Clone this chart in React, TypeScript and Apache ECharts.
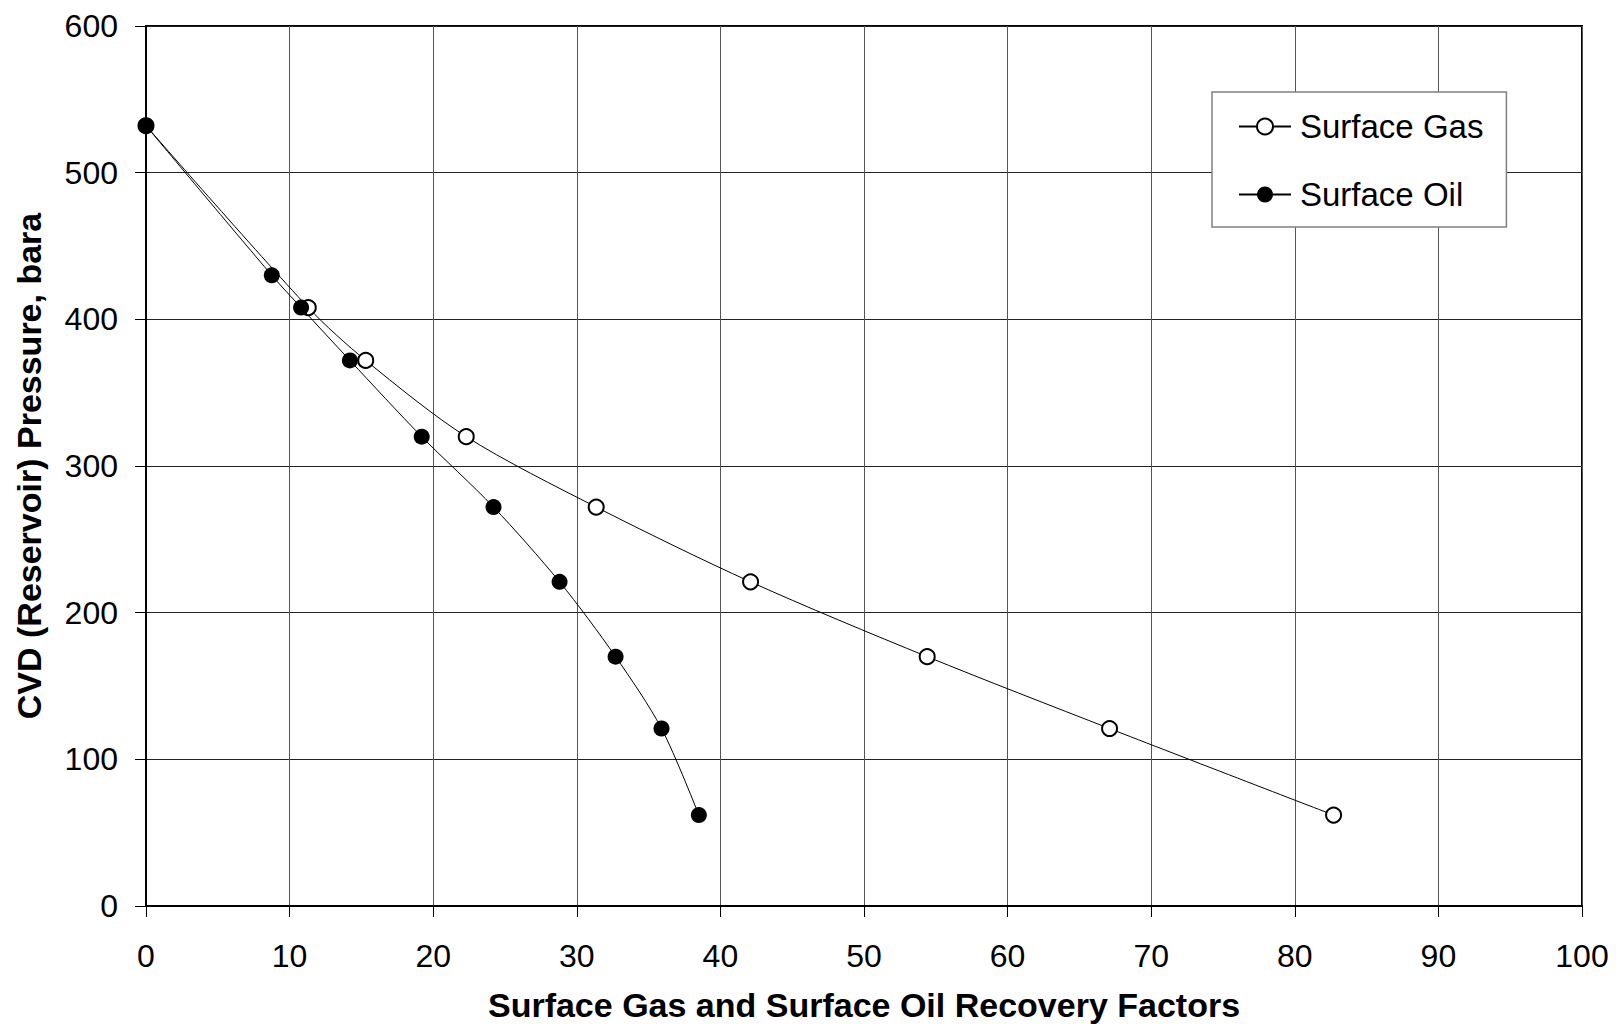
import React, { useEffect, useRef } from "react";
import * as echarts from "echarts";

const pressure = [532, 430, 408, 372, 320, 272, 221, 170, 121, 62];
const gasPressure = [532, 408, 372, 320, 272, 221, 170, 121, 62];
const gasRecovery = [0, 11.3, 15.3, 22.3, 31.35, 42.1, 54.4, 67.1, 82.7];
const oilRecovery = [0, 8.76, 10.8, 14.2, 19.2, 24.2, 28.8, 32.7, 35.9, 38.5];

const FONT = "'Liberation Sans', Arial, sans-serif";

export default function App() {
  const ref = useRef<HTMLDivElement>(null);
  useEffect(() => {
    if (!ref.current) return;
    const chart = echarts.init(ref.current, undefined, { renderer: "svg" });
    const gasData = gasRecovery.map((x, i) => [x, gasPressure[i]]);
    const oilData = oilRecovery.map((x, i) => [x, pressure[i]]);
    chart.setOption({
      animation: false,
      backgroundColor: "#fff",
      textStyle: { fontFamily: FONT },
      grid: {
        left: 146,
        top: 26,
        width: 1436,
        height: 880,
        outerBoundsMode: "none",
        containLabel: false,
        show: true,
        borderColor: "#000",
        borderWidth: 2,
        backgroundColor: "transparent",
      },
      legend: {
        left: 1212,
        top: 92,
        orient: "vertical",
        backgroundColor: "#fff",
        borderColor: "#808080",
        borderWidth: 1.5,
        borderRadius: 0,
        padding: [18, 23, 16, 26],
        itemWidth: 52,
        itemHeight: 20,
        itemGap: 35,
        textStyle: { fontSize: 33, color: "#000", fontFamily: FONT, padding: [0, 0, 0, 4] },
        data: ["Surface Gas", "Surface Oil"],
      },
      xAxis: {
        type: "value",
        min: 0,
        max: 100,
        interval: 10,
        name: "Surface Gas and Surface Oil Recovery Factors",
        nameLocation: "middle",
        nameGap: 82,
        nameTextStyle: { fontSize: 34, fontWeight: "bold", color: "#000", fontFamily: FONT },
        axisLine: { show: true, lineStyle: { color: "#000", width: 2 } },
        axisTick: { show: true, inside: false, length: 11, lineStyle: { color: "#000", width: 1 } },
        axisLabel: { fontSize: 32, color: "#000", margin: 34, fontFamily: FONT },
        splitLine: { show: true, lineStyle: { color: "#555", width: 1 } },
      },
      yAxis: {
        type: "value",
        min: 0,
        max: 600,
        interval: 100,
        name: "CVD (Reservoir) Pressure, bara",
        nameLocation: "middle",
        nameGap: 100,
        nameTextStyle: { fontSize: 34, fontWeight: "bold", color: "#000", fontFamily: FONT },
        axisLine: { show: true, lineStyle: { color: "#000", width: 2 } },
        axisTick: { show: true, inside: false, length: 11, lineStyle: { color: "#000", width: 1 } },
        axisLabel: { fontSize: 32, color: "#000", margin: 28, fontFamily: FONT },
        splitLine: { show: true, lineStyle: { color: "#222", width: 1 } },
      },
      series: [
        {
          name: "Surface Gas",
          type: "line",
          data: gasData,
          smooth: 0.3,
          symbol: "circle",
          symbolSize: 15,
          lineStyle: { color: "#000", width: 1 },
          itemStyle: { color: "#fff", borderColor: "#000", borderWidth: 2 },
          z: 3,
        },
        {
          name: "Surface Oil",
          type: "line",
          data: oilData,
          smooth: 0.3,
          symbol: "circle",
          symbolSize: 16,
          lineStyle: { color: "#000", width: 1 },
          itemStyle: { color: "#000", borderColor: "#000", borderWidth: 0 },
          z: 4,
        },
      ],
    });
    return () => chart.dispose();
  }, []);
  return (
    <div
      ref={ref}
      style={{ position: "fixed", left: 0, top: 0, width: 1616, height: 1024, background: "#fff" }}
    />
  );
}
